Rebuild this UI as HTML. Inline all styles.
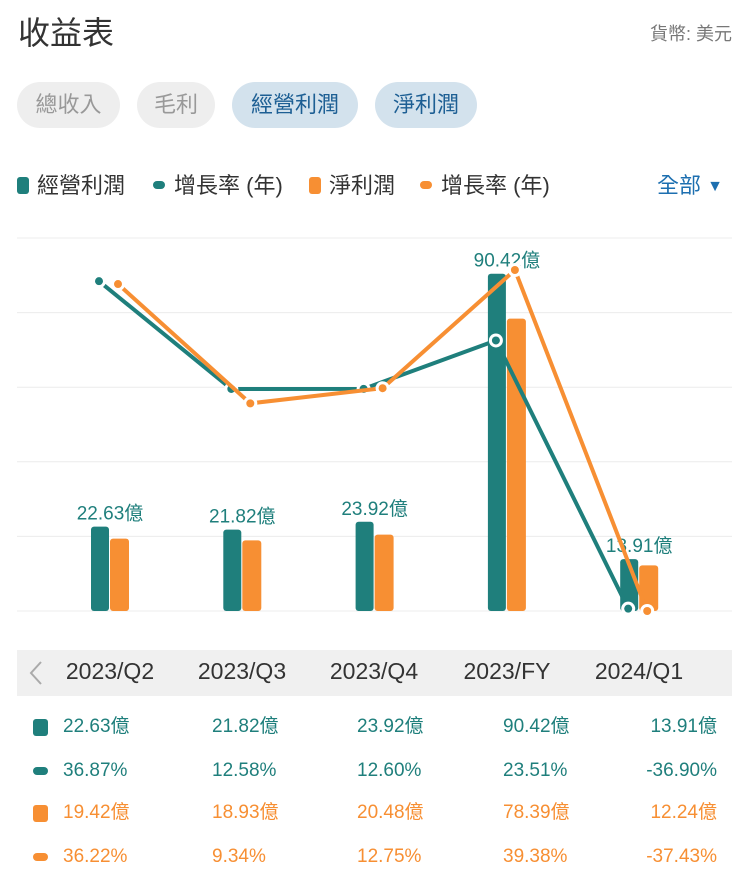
<!DOCTYPE html>
<html><head><meta charset="utf-8">
<style>
body{margin:0;width:745px;height:878px;background:#fff;font-family:"Liberation Sans","Noto Sans CJK TC",sans-serif;position:relative;overflow:hidden}
.abs{position:absolute;white-space:nowrap}
.pill{position:absolute;top:82px;height:46px;border-radius:23px;font-size:22px;line-height:46px;text-align:center}
.leg{position:absolute;top:171px;font-size:22px;line-height:30px;color:#333}
.td{position:absolute;font-size:19px;line-height:24px}
</style></head><body>
<div class="abs" style="left:18px;top:8px;font-size:32px;color:#333">收益表</div>
<div class="abs" style="right:13px;top:20px;font-size:18px;color:#777">貨幣: 美元</div>
<div class="pill" style="left:17px;width:103px;background:#eee;color:#999">總收入</div>
<div class="pill" style="left:137px;width:78px;background:#eee;color:#999">毛利</div>
<div class="pill" style="left:232px;width:126px;background:#d3e2ed;color:#1d5f94">經營利潤</div>
<div class="pill" style="left:375px;width:102px;background:#d3e2ed;color:#1d5f94">淨利潤</div>
<div>
<div class="leg" style="left:17px"><span style="display:inline-block;width:12px;height:17px;border-radius:3px;background:#1f7f7c;vertical-align:-1px;margin-right:8px"></span>經營利潤</div>
<div class="leg" style="left:153px"><span style="display:inline-block;width:12px;height:8px;border-radius:4px;background:#1f7f7c;vertical-align:4px;margin-right:9px"></span>增長率 (年)</div>
<div class="leg" style="left:309px"><span style="display:inline-block;width:12px;height:17px;border-radius:3px;background:#f78f33;vertical-align:-1px;margin-right:8px"></span>淨利潤</div>
<div class="leg" style="left:420px"><span style="display:inline-block;width:12px;height:8px;border-radius:4px;background:#f78f33;vertical-align:4px;margin-right:9px"></span>增長率 (年)</div>
<div class="leg" style="left:657px;color:#1d6fb0">全部 <span style="font-size:16px;vertical-align:2px">▼</span></div>
</div>
<svg id="chart" width="745" height="640" style="position:absolute;left:0;top:0"></svg>
<div class="abs" style="left:17px;top:650px;width:715px;height:46px;background:#f0f0f0"></div>
<svg class="abs" style="left:28px;top:660px" width="16" height="26"><polyline points="13,2 3,13 13,24" fill="none" stroke="#aaa" stroke-width="2"/></svg>
<div id="table"></div>
<script>
const categories=["2023/Q2","2023/Q3","2023/Q4","2023/FY","2024/Q1"];
const opProfit=[22.63,21.82,23.92,90.42,13.91];
const opGrowth=[36.87,12.58,12.60,23.51,-36.90];
const netProfit=[19.42,18.93,20.48,78.39,12.24];
const netGrowth=[36.22,9.34,12.75,39.38,-37.43];
const T="#1f7f7c",O="#f78f33";
const NS="http://www.w3.org/2000/svg";
const svg=document.getElementById('chart');
const base=611,top0=238,barMax=100;
const xC=i=>110+i*132.3;
const yBar=v=>base-v/barMax*(base-top0);
const allG=opGrowth.concat(netGrowth);
const gMin=Math.min(...allG),gMax=Math.max(...allG);
const yG=v=>base-(v-gMin)/(gMax-gMin)*(base-270);
function mk(t,a){const e=document.createElementNS(NS,t);for(const k in a)e.setAttribute(k,a[k]);svg.appendChild(e);return e;}
for(let i=0;i<=5;i++){const y=base-i*(base-top0)/5;const g=mk('line',{x1:17,x2:732,y1:y,y2:y,stroke:'#ececec','stroke-width':1});
}
categories.forEach((c,i)=>{
 const x=xC(i);
 const b1=mk('rect',{x:x-19,y:yBar(opProfit[i]),width:18,height:base-yBar(opProfit[i]),rx:3,fill:T});
 
 const b2=mk('rect',{x:x,y:yBar(netProfit[i]),width:19,height:base-yBar(netProfit[i]),rx:3,fill:O});
 
 const t=mk('text',{x:x,y:yBar(opProfit[i])-7,'text-anchor':'middle','font-size':19,fill:T});
 t.textContent=opProfit[i].toFixed(2)+'億';
 
});
function line(vals,off,col,name){
 const pts=vals.map((v,i)=>(xC(i)+off)+','+yG(v)).join(' ');
 const l=mk('polyline',{points:pts,fill:'none',stroke:col,'stroke-width':4,'stroke-linejoin':'round'});
 
 vals.forEach((v,i)=>{
  const o=mk('circle',{cx:xC(i)+off,cy:yG(v),r:7,fill:'#fff'});
  
  const c=mk('circle',{cx:xC(i)+off,cy:yG(v),r:4,fill:col});
  
 });
}
line(opGrowth,-11,T,'line-operating-growth');
line(netGrowth,8,O,'line-net-growth');
const tb=document.getElementById('table');
const hx=[110,242,374,507,639];
categories.forEach((c,i)=>{const d=document.createElement('div');d.className='abs';d.style.cssText=`left:${hx[i]-60}px;width:120px;text-align:center;top:658px;font-size:23px;color:#333`;d.textContent=c;
tb.appendChild(d);});
const rows=[[opProfit,T,'億',715,17],[opGrowth,T,'%',759,8],[netProfit,O,'億',801,17],[netGrowth,O,'%',845,8]];
const cx=[63,212,357,503];
rows.forEach((r,ri)=>{
 const m=document.createElement('div');m.className='abs';m.style.cssText=`left:33px;top:${r[3]+12-r[4]/2}px;width:15px;height:${r[4]}px;border-radius:${r[4]>10?3:4}px;background:${r[1]}`;
 tb.appendChild(m);
 r[0].forEach((v,i)=>{const d=document.createElement('div');d.className='td';
  d.style.color=r[1];d.style.top=r[3]+'px';
  if(i<4)d.style.left=cx[i]+'px';else{d.style.right='28px';}
  d.textContent=v.toFixed(2)+r[2];
  tb.appendChild(d);});
});
</script>
</body></html>
